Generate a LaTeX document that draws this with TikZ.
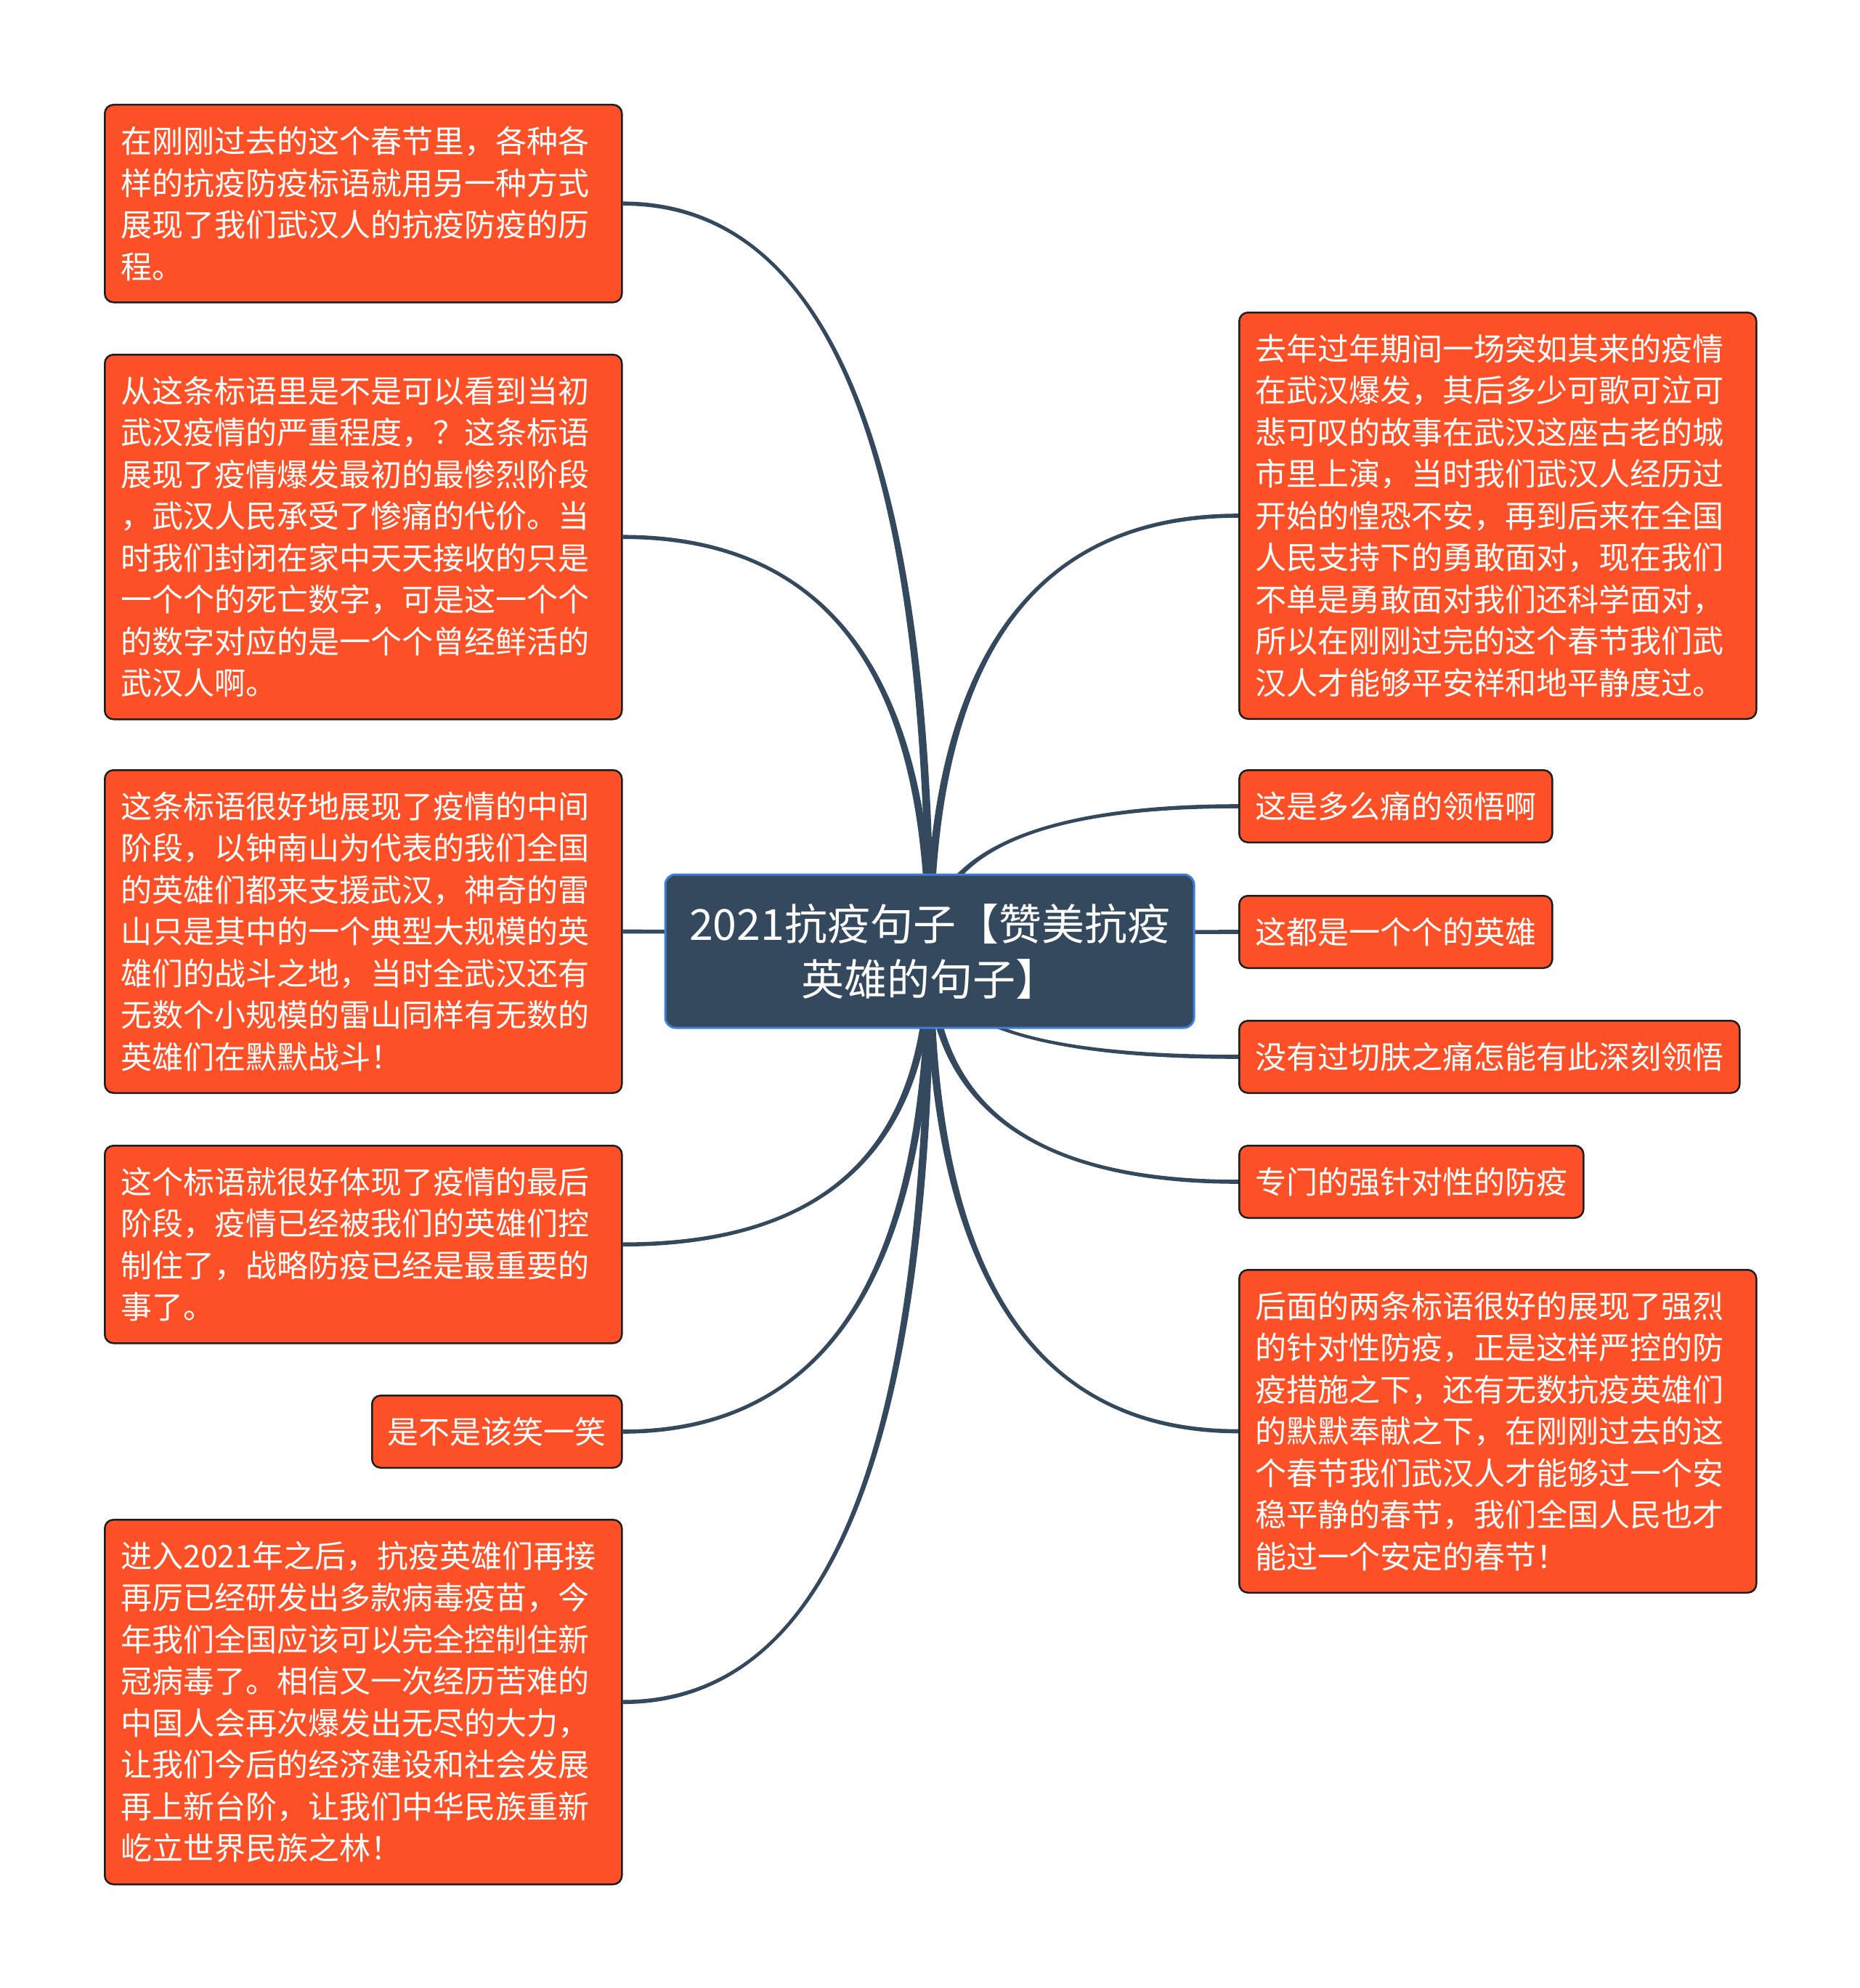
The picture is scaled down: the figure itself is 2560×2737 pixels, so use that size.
\documentclass[tikz,border=0pt]{standalone}
\usepackage{fontspec}
\setmainfont{Noto Sans CJK SC}
\usetikzlibrary{calc,backgrounds}
\definecolor{leaffill}{HTML}{FE5027}
\definecolor{leafline}{HTML}{1E1E1E}
\definecolor{rootfill}{HTML}{34495E}
\definecolor{rootline}{HTML}{3D7FD8}
\definecolor{linkcol}{HTML}{34495E}
\tikzset{
  leaf/.style={draw=leafline, fill=leaffill, line width=2.5pt, rounded corners=12pt,
    text=white, font=\fontsize{43}{57.5}\selectfont, inner xsep=22pt, inner ysep=0pt,
    anchor=north west, align=left},
  rootbox/.style={draw=rootline, fill=rootfill, line width=3pt, rounded corners=14pt,
    text=white, font=\fontsize{59}{76}\selectfont, inner sep=0pt, align=center,
    minimum width=728pt, minimum height=211pt}
}
% #1 parent, #2 child anchor, #3 signed start half width, #4 signed end half width
\newcommand\mmlink[4]{%
  \fill[linkcol] let \p1=(#1), \p2=(#2) in
    ({\x1-(#3)},\y1) .. controls ({\x1-(#3)},{\y1+0.6667*(\y2-\y1)}) and ({\x2+0.6667*(\x1-\x2)},{\y2+(#4)}) .. ({\x2},{\y2+(#4)})
    -- ({\x2},{\y2-(#4)}) .. controls ({\x2+0.6667*(\x1-\x2)},{\y2-(#4)}) and ({\x1+(#3)},{\y1+0.6667*(\y2-\y1)}) .. ({\x1+(#3)},\y1) -- cycle;}
\begin{document}
\begin{tikzpicture}[x=1pt,y=-1pt]
\useasboundingbox (0,0) rectangle (2560,2737);

\node[rootbox] (m) at (1280,1309.5) {2021抗疫句子【赞美抗疫\\英雄的句子】};

% left column
\node[leaf, text width=668pt, minimum width=712pt, minimum height=272pt] (l1) at (143,143)
 {在刚刚过去的这个春节里，各种各\\样的抗疫防疫标语就用另一种方式\\展现了我们武汉人的抗疫防疫的历\\程。};
\node[leaf, text width=668pt, minimum width=712pt, minimum height=502pt] (l2) at (143,487)
 {从这条标语里是不是可以看到当初\\武汉疫情的严重程度，？这条标语\\展现了疫情爆发最初的最惨烈阶段\\，武汉人民承受了惨痛的代价。当\\时我们封闭在家中天天接收的只是\\一个个的死亡数字，可是这一个个\\的数字对应的是一个个曾经鲜活的\\武汉人啊。};
\node[leaf, text width=668pt, minimum width=712pt, minimum height=444.5pt] (l3) at (143,1059)
 {这条标语很好地展现了疫情的中间\\阶段，以钟南山为代表的我们全国\\的英雄们都来支援武汉，神奇的雷\\山只是其中的一个典型大规模的英\\雄们的战斗之地，当时全武汉还有\\无数个小规模的雷山同样有无数的\\英雄们在默默战斗！};
\node[leaf, text width=668pt, minimum width=712pt, minimum height=272pt] (l4) at (143,1576)
 {这个标语就很好体现了疫情的最后\\阶段，疫情已经被我们的英雄们控\\制住了，战略防疫已经是最重要的\\事了。};
\node[leaf, inner xsep=20pt, minimum width=344pt, minimum height=99.5pt] (l5) at (511,1920)
 {是不是该笑一笑};
\node[leaf, text width=668pt, minimum width=712pt, minimum height=502pt] (l6) at (143,2091)
 {进入2021年之后，抗疫英雄们再接\\再厉已经研发出多款病毒疫苗，今\\年我们全国应该可以完全控制住新\\冠病毒了。相信又一次经历苦难的\\中国人会再次爆发出无尽的大力，\\让我们今后的经济建设和社会发展\\再上新台阶，让我们中华民族重新\\屹立世界民族之林！};

% right column
\node[leaf, text width=668pt, minimum width=712pt, minimum height=559.5pt] (r1) at (1705,429)
 {去年过年期间一场突如其来的疫情\\在武汉爆发，其后多少可歌可泣可\\悲可叹的故事在武汉这座古老的城\\市里上演，当时我们武汉人经历过\\开始的惶恐不安，再到后来在全国\\人民支持下的勇敢面对，现在我们\\不单是勇敢面对我们还科学面对，\\所以在刚刚过完的这个春节我们武\\汉人才能够平安祥和地平静度过。};
\node[leaf, minimum width=429pt, minimum height=99.5pt] (r2) at (1705,1059) {这是多么痛的领悟啊};
\node[leaf, minimum width=429pt, minimum height=99.5pt] (r3) at (1705,1232) {这都是一个个的英雄};
\node[leaf, minimum width=688pt, minimum height=99.5pt] (r4) at (1705,1404) {没有过切肤之痛怎能有此深刻领悟};
\node[leaf, minimum width=473pt, minimum height=99.5pt] (r5) at (1705,1576) {专门的强针对性的防疫};
\node[leaf, text width=668pt, minimum width=712pt, minimum height=444.5pt] (r6) at (1705,1747)
 {后面的两条标语很好的展现了强烈\\的针对性防疫，正是这样严控的防\\疫措施之下，还有无数抗疫英雄们\\的默默奉献之下，在刚刚过去的这\\个春节我们武汉人才能够过一个安\\稳平静的春节，我们全国人民也才\\能过一个安定的春节！};

\begin{pgfonlayer}{background}
\fill[white] (0,0) rectangle (2560,2737);
\mmlink{m.center}{l1.east}{5.5pt}{-2.8pt}
\mmlink{m.center}{l2.east}{5.5pt}{-2.8pt}
\mmlink{m.center}{l3.east}{5.5pt}{-2.8pt}
\mmlink{m.center}{l4.east}{-5.5pt}{-2.8pt}
\mmlink{m.center}{l5.east}{-5.5pt}{-2.8pt}
\mmlink{m.center}{l6.east}{-5.5pt}{-2.8pt}
\mmlink{m.center}{r1.west}{5.5pt}{2.8pt}
\mmlink{m.center}{r2.west}{5.5pt}{2.8pt}
\mmlink{m.center}{r3.west}{5.5pt}{2.8pt}
\mmlink{m.center}{r4.west}{-5.5pt}{2.8pt}
\mmlink{m.center}{r5.west}{-5.5pt}{2.8pt}
\mmlink{m.center}{r6.west}{-5.5pt}{2.8pt}
\end{pgfonlayer}
\end{tikzpicture}
\end{document}
